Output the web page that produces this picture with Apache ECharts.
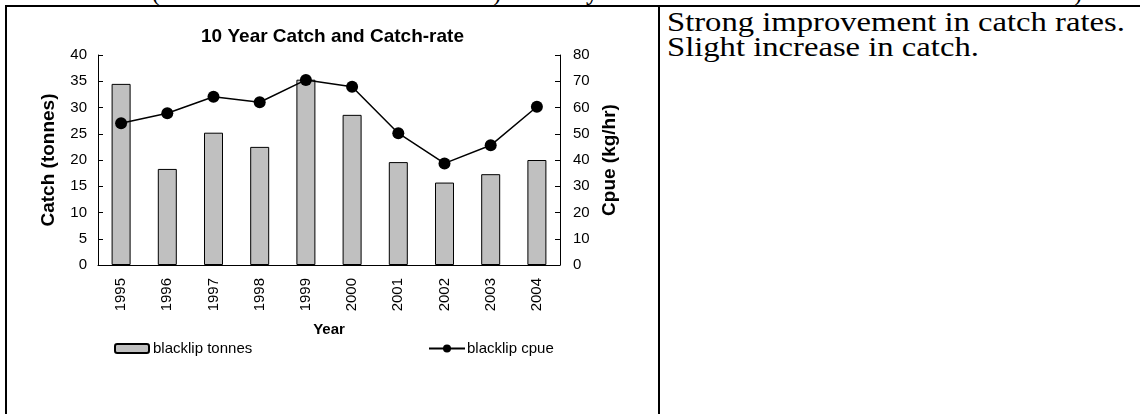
<!DOCTYPE html>
<html>
<head>
<meta charset="utf-8">
<script src="https://cdn.jsdelivr.net/npm/echarts@6/dist/echarts.min.js"></script>
<style>
  html, body { margin: 0; padding: 0; background: #fff; }
  body { width: 1140px; height: 414px; position: relative; overflow: hidden; }
  .hline { position: absolute; background: #000; }
  .frag { position: absolute; font-family: "Liberation Serif", "Times New Roman", serif; font-size: 24px; line-height: 24px; color: #000; }
  #note { position: absolute; left: 667px; top: 9px; font-family: "Liberation Serif", "Times New Roman", serif; font-size: 28px; line-height: 25px; color: #000; white-space: nowrap; transform: scaleX(1.166); transform-origin: 0 0; }
  #chart { position: absolute; left: 7px; top: 7px; width: 651px; height: 407px; }
</style>
</head>
<body>
<div class="frag" style="left:152px; top:-19px;">(</div>
<div class="frag" style="left:493px; top:-19px;">)</div>
<div class="frag" style="left:586px; top:-20px; font-weight:bold;">y</div>
<div class="frag" style="left:1074px; top:-19px;">)</div>
<div class="hline" style="left:5px; top:5px; width:1135px; height:2px;"></div>
<div class="hline" style="left:5px; top:5px; width:2px; height:409px;"></div>
<div class="hline" style="left:658px; top:5px; width:2px; height:409px;"></div>
<div id="note">Strong improvement in catch rates.<br>Slight increase in catch.</div>
<div id="chart"></div>
<script>
const years = ['1995','1996','1997','1998','1999','2000','2001','2002','2003','2004'];
const tonnes = [34.5, 18.3, 25.2, 22.5, 35.3, 28.6, 19.6, 15.7, 17.3, 20.0];
const cpue = [54.0, 57.8, 64.1, 62.0, 70.5, 67.9, 50.2, 38.7, 45.6, 60.3];
const titleText = '10 Year Catch and Catch-rate';
const leftAxisName = 'Catch (tonnes)';
const rightAxisName = 'Cpue (kg/hr)';
const xAxisName = 'Year';
const barName = 'blacklip tonnes';
const lineName = 'blacklip cpue';

const FONT = '"Liberation Sans", Arial, sans-serif';
const chart = echarts.init(document.getElementById('chart'), null, { renderer: 'canvas' });
chart.setOption({
  animation: false,
  backgroundColor: 'transparent',
  textStyle: { fontFamily: FONT, color: '#000' },
  title: {
    text: titleText, left: 'center', top: 20, padding: 0,
    textStyle: { fontFamily: FONT, fontSize: 19, fontWeight: 'bold', color: '#000' }
  },
  legend: [
    { data: [barName], left: 107, top: 334, padding: 0, itemWidth: 34, itemHeight: 9, itemGap: 3,
      textStyle: { fontFamily: FONT, fontSize: 15, color: '#000', padding: [0,0,0,-1] } },
    { data: [lineName], left: 421, top: 334, padding: 0, itemWidth: 36, itemHeight: 10, itemGap: 3,
      textStyle: { fontFamily: FONT, fontSize: 15, color: '#000', padding: [0,0,0,-3] } }
  ],
  grid: { left: 91, right: 98, top: 48, bottom: 149, containLabel: false },
  xAxis: {
    type: 'category', data: years,
    name: xAxisName, nameLocation: 'middle', nameGap: 57,
    nameTextStyle: { fontFamily: FONT, fontSize: 15, fontWeight: 'bold', color: '#000' },
    axisLine: { lineStyle: { color: '#000', width: 1 } },
    axisTick: { inside: true, length: 5, lineStyle: { color: '#000' } },
    axisLabel: { rotate: 90, margin: 13, fontFamily: FONT, fontSize: 15, color: '#000' },
    splitLine: { show: false }
  },
  yAxis: [
    { type: 'value', min: 0, max: 40, interval: 5, position: 'left',
      name: leftAxisName, nameLocation: 'middle', nameGap: 40, nameRotate: 90,
      nameTextStyle: { fontFamily: FONT, fontSize: 19, fontWeight: 'bold', color: '#000' },
      axisLine: { show: true, lineStyle: { color: '#000', width: 1 } },
      axisTick: { show: true, inside: true, length: 5, lineStyle: { color: '#000' } },
      axisLabel: { margin: 11, fontFamily: FONT, fontSize: 15, color: '#000' },
      splitLine: { show: false } },
    { type: 'value', min: 0, max: 80, interval: 10, position: 'right',
      name: rightAxisName, nameLocation: 'middle', nameGap: 38, nameRotate: 90,
      nameTextStyle: { fontFamily: FONT, fontSize: 19, fontWeight: 'bold', color: '#000' },
      axisLine: { show: true, lineStyle: { color: '#000', width: 1 } },
      axisTick: { show: true, inside: true, length: 5, lineStyle: { color: '#000' } },
      axisLabel: { margin: 13, fontFamily: FONT, fontSize: 15, color: '#000' },
      splitLine: { show: false } }
  ],
  series: [
    { name: barName, type: 'bar', yAxisIndex: 0, data: tonnes, barWidth: 19,
      itemStyle: { color: '#c0c0c0', borderColor: '#000', borderWidth: 1 } },
    { name: lineName, type: 'line', yAxisIndex: 1, data: cpue,
      symbol: 'circle', symbolSize: 12,
      lineStyle: { color: '#000', width: 1.5 },
      itemStyle: { color: '#000' } }
  ]
});
</script>
</body>
</html>
